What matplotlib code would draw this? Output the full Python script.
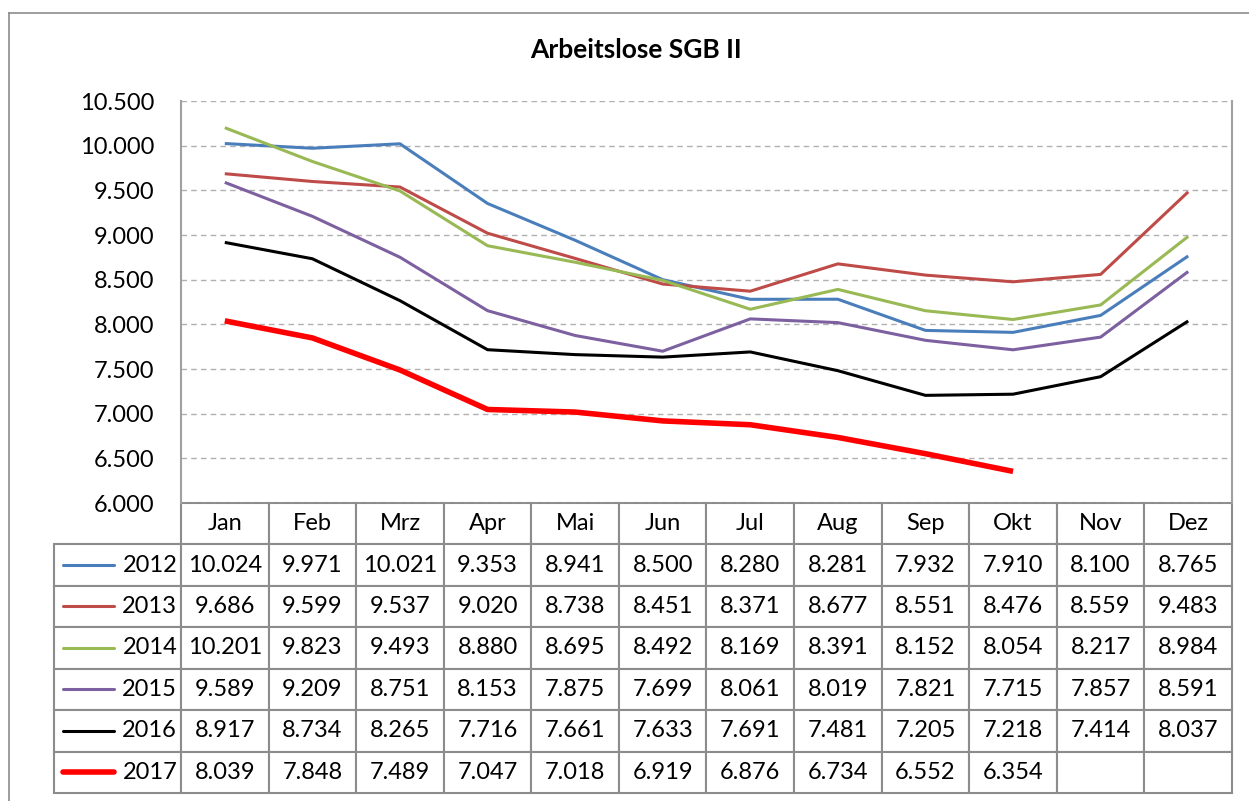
import matplotlib.pyplot as plt
from matplotlib.lines import Line2D

plt.rcParams['font.family'] = ['Lato', 'DejaVu Sans']

months = ["Jan", "Feb", "Mrz", "Apr", "Mai", "Jun", "Jul", "Aug", "Sep", "Okt", "Nov", "Dez"]
years = ["2012", "2013", "2014", "2015", "2016", "2017"]
v2012 = [10024, 9971, 10021, 9353, 8941, 8500, 8280, 8281, 7932, 7910, 8100, 8765]
v2013 = [9686, 9599, 9537, 9020, 8738, 8451, 8371, 8677, 8551, 8476, 8559, 9483]
v2014 = [10201, 9823, 9493, 8880, 8695, 8492, 8169, 8391, 8152, 8054, 8217, 8984]
v2015 = [9589, 9209, 8751, 8153, 7875, 7699, 8061, 8019, 7821, 7715, 7857, 8591]
v2016 = [8917, 8734, 8265, 7716, 7661, 7633, 7691, 7481, 7205, 7218, 7414, 8037]
v2017 = [8039, 7848, 7489, 7047, 7018, 6919, 6876, 6734, 6552, 6354]
series = [v2012, v2013, v2014, v2015, v2016, v2017]
colors = ["#4A7EBB", "#BE4B48", "#98B954", "#7D60A0", "#000000", "#FF0000"]
widths = [2.2, 2.2, 2.2, 2.2, 2.2, 4.0]

W, H = 1249, 801
fig = plt.figure(figsize=(W / 100, H / 100), dpi=100)

# plot area in pixels
L, R, T, B = 181, 1232, 101, 503
ax = fig.add_axes([L / W, 1 - B / H, (R - L) / W, (B - T) / H])

def fmt(v):
    return f"{v / 1000:.3f}"

for vals, c, lw in zip(series, colors, widths):
    ax.plot([i + 0.5 for i in range(len(vals))], vals, color=c, lw=lw, solid_capstyle='butt')

ax.set_xlim(0, 12)
ax.set_ylim(6000, 10500)
ax.set_xticks([])
yt = list(range(6000, 10501, 500))
ax.set_yticks(yt)
ax.set_yticklabels([fmt(v) for v in yt], fontsize=17)
ax.tick_params(axis='y', length=0, pad=19)
ax.grid(axis='y', color='#B0B0B0', ls=(0, (4, 3)), lw=1)
for s in ['left', 'right']:
    ax.spines[s].set_color('#A0A0A0')
    ax.spines[s].set_linewidth(1.5)
ax.spines['top'].set_visible(False)
ax.spines['bottom'].set_visible(False)

# data table below the plot
cell_text = [[""] + months]
for y, vals in zip(years, series):
    cell_text.append([y] + [fmt(v) for v in vals] + [""] * (12 - len(vals)))

TL, TB = 54, 793
tbl = ax.table(cellText=cell_text, cellLoc='center',
               colWidths=[(L - TL) / (R - L)] + [1 / 12] * 12,
               bbox=[(TL - L) / (R - L), -(TB - B) / (B - T), (R - TL) / (R - L), (TB - B) / (B - T)])
tbl.auto_set_font_size(False)
for (r, c), cell in tbl.get_celld().items():
    cell.set_edgecolor('#8C8C8C')
    cell.set_linewidth(1.5)
    cell.get_text().set_fontsize(17)
    if c == 0:
        cell.get_text().set_ha('right')
        cell._loc = 'right'
        cell.PAD = 0.03
    if r == 0 and c == 0:
        cell.visible_edges = 'B'

# legend keys in the row label cells
row_h = (TB - 544) / 6
for i, (c, lw) in enumerate(zip(colors, widths)):
    yc = 544 + row_h * (i + 0.5)
    fig.add_artist(Line2D([63 / W, 114 / W], [1 - yc / H, 1 - yc / H], color=c, lw=lw,
                          solid_capstyle='round'))

# outer chart border (left and top)
fig.add_artist(Line2D([9 / W, 9 / W], [0, 1 - 13 / H], color='#8C8C8C', lw=1.2))
fig.add_artist(Line2D([9 / W, 1], [1 - 13 / H, 1 - 13 / H], color='#8C8C8C', lw=1.2))

fig.text(636 / W, 1 - 50 / H, "Arbeitslose SGB II", ha='center', va='center',
         fontsize=19, fontweight='bold')

fig.savefig("out.png", dpi=100)
